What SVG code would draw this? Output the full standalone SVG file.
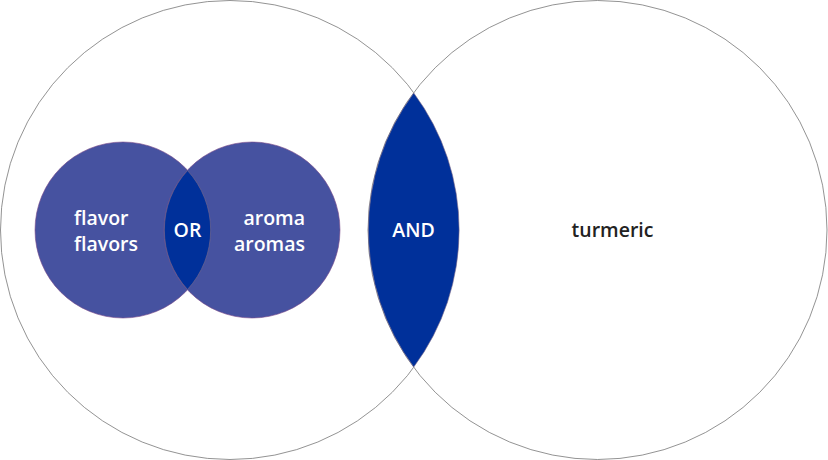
<svg xmlns="http://www.w3.org/2000/svg" width="828" height="460" viewBox="0 0 828 460">
<style>
.big{fill:#fff;stroke:#777;stroke-width:0.8}
.small{fill:#4652a0;stroke:#7a4a8a;stroke-width:0.6}
.lens{fill:#00309a;stroke:#7a6a8a;stroke-width:0.6}
.t{font-family:"Open Sans","Liberation Sans",sans-serif;font-size:19.5px;font-weight:600}
.w{fill:#fff}
.d{fill:#222}
</style>
<rect width="828" height="460" fill="#fff"/>
<g id="left-big"><circle class="big" cx="230" cy="230" r="229.5"/></g>
<g id="right-big"><circle class="big" cx="597.5" cy="230" r="229.5"/></g>
<g id="and-lens">
<path class="lens" d="M413.75,93 A229.5,229.5 0 0 1 413.75,367 A229.5,229.5 0 0 1 413.75,93 Z"/>
<text class="t w" x="413.5" y="237" text-anchor="middle">AND</text>
</g>
<g id="flavor"><circle class="small" cx="123" cy="230" r="88"/></g>
<g id="aroma"><circle class="small" cx="252" cy="230" r="88"/></g>
<g id="or-lens">
<path class="lens" d="M187.5,170.5 A88,88 0 0 1 187.5,289.5 A88,88 0 0 1 187.5,170.5 Z"/>
<text class="t w" x="187.5" y="237" text-anchor="middle">OR</text>
</g>
<g id="labels">
<text class="t w" x="74" y="225">flavor</text>
<text class="t w" x="74" y="251">flavors</text>
<text class="t w" x="305" y="225" text-anchor="end">aroma</text>
<text class="t w" x="305" y="251" text-anchor="end">aromas</text>
<text class="t d" x="612.5" y="237" text-anchor="middle">turmeric</text>
</g>
</svg>
